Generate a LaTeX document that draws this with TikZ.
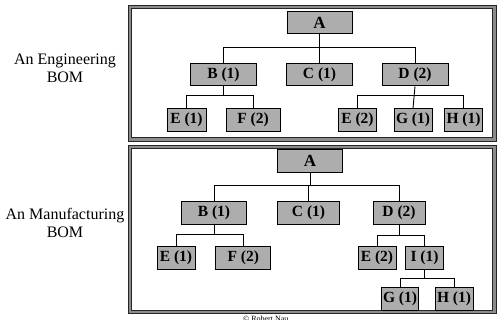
\documentclass[tikz,border=0pt]{standalone}
\usepackage{fontspec}
\setmainfont{Liberation Serif}
\begin{document}
\begin{tikzpicture}[x=1pt,y=-1pt,
  part/.style={draw=black,line width=0.9pt,fill=black!32,inner sep=0pt,
    minimum height=22.5pt,font=\fontsize{15.5}{17}\bfseries\selectfont},
  top/.style={part,font=\fontsize{17}{19}\bfseries\selectfont},
  link/.style={line width=0.9pt,black},
  frameband/.style={line width=3.2pt,draw=black!45},
  frameedge/.style={line width=0.7pt,draw=black!85},
  caption/.style={align=center,font=\fontsize{16}{18}\selectfont}]
\useasboundingbox (0,0) rectangle (497,320);

% frames around the two trees
\foreach \ya/\yb in {5.5/141, 145/313.5}{
  \draw[frameband] (129.5,\ya+1.5) rectangle (494.5,\yb-1.5);
  \draw[frameedge] (128,\ya) rectangle (496,\yb);
  \draw[frameedge] (131.2,\ya+3.2) rectangle (492.8,\yb-3.2);
}

% side captions
\node[caption] (capE) at (65,68) {An Engineering\\BOM};
\node[caption] (capM) at (65,223) {An Manufacturing\\BOM};

% ---- engineering BOM ----
\node[top,minimum width=65pt] (eA) at (319.5,22.5) {A};
\node[part,minimum width=66pt] (eB) at (223.5,74.7) {B (1)};
\node[part,minimum width=66pt] (eC) at (319.5,74.7) {C (1)};
\node[part,minimum width=66pt] (eD) at (415,74.7) {D (2)};
\node[part,minimum width=39pt] (eE1) at (186.5,120) {E (1)};
\node[part,minimum width=54pt] (eF) at (253,120) {F (2)};
\node[part,minimum width=38pt] (eE2) at (357.5,120) {E (2)};
\node[part,minimum width=38pt] (eG) at (413,120) {G (1)};
\node[part,minimum width=38pt] (eH) at (463.5,120) {H (1)};

\draw[link] (eA.south) -- (eC.north);
\draw[link] (eB.north) -- (eB.north |- 0,47.7) -- (eD.north |- 0,47.7) -- (eD.north);
\draw[link] (eB.south) -- (eB.south |- 0,95.7);
\draw[link] (eE1.north) -- (eE1.north |- 0,95.7) -- (eF.north |- 0,95.7) -- (eF.north);
\draw[link] (eD.south) -- (eG.north);
\draw[link] (eE2.north) -- (eE2.north |- 0,95.7) -- (eH.north |- 0,95.7) -- (eH.north);

% ---- manufacturing BOM ----
\node[top,minimum width=65pt] (mA) at (310,161) {A};
\node[part,minimum width=65pt] (mB) at (214,213) {B (1)};
\node[part,minimum width=62pt] (mC) at (308.5,213) {C (1)};
\node[part,minimum width=52pt] (mD) at (399,213) {D (2)};
\node[part,minimum width=38pt] (mE1) at (176,258) {E (1)};
\node[part,minimum width=55pt] (mF) at (243.3,258) {F (2)};
\node[part,minimum width=38pt] (mE2) at (377,258) {E (2)};
\node[part,minimum width=38pt] (mI) at (424.5,258) {I (1)};
\node[part,minimum width=37pt] (mG) at (400,298.7) {G (1)};
\node[part,minimum width=38pt] (mH) at (454,298.7) {H (1)};

\draw[link] (mA.south) -- (mA.south |- 0,185.7);
\draw[link] (mB.north) -- (mB.north |- 0,185.7) -- (mD.north |- 0,185.7) -- (mD.north);
\draw[link] (mC.north) -- (mC.north |- 0,185.7);
\draw[link] (mB.south) -- (mB.south |- 0,234);
\draw[link] (mE1.north) -- (mE1.north |- 0,234) -- (mF.north |- 0,234) -- (mF.north);
\draw[link] (mD.south) -- (mD.south |- 0,235.5);
\draw[link] (mE2.north) -- (mE2.north |- 0,235.5) -- (mI.north |- 0,235.5) -- (mI.north);
\draw[link] (mI.south) -- (mI.south |- 0,278.3);
\draw[link] (mG.north) -- (mG.north |- 0,278.3) -- (mH.north |- 0,278.3) -- (mH.north);

% copyright line along the lower edge
\node[anchor=north west,inner sep=0pt,font=\fontsize{8}{9}\selectfont] (copy) at (243,315.5) {\textcopyright{} Robert Nau};
\end{tikzpicture}
\end{document}
